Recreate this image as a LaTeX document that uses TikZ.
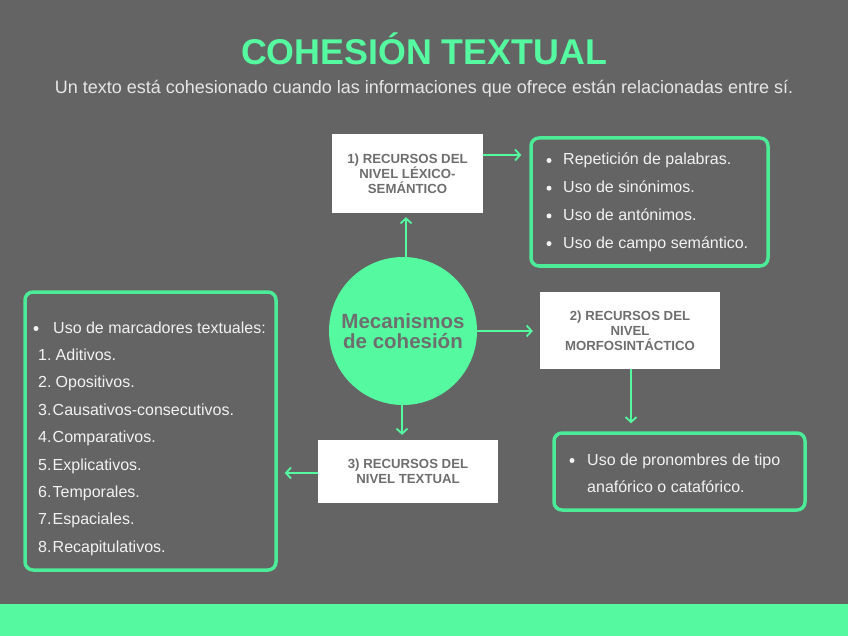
\documentclass[tikz,border=0pt]{standalone}
\usepackage{fontspec}
\setmainfont{Liberation Sans}
\usetikzlibrary{arrows.meta}
\definecolor{bg}{HTML}{646464}
\definecolor{mint}{HTML}{55F9A0}
\definecolor{mintb}{HTML}{4CEB98}
\definecolor{boxtxt}{HTML}{6E6E6E}
\definecolor{listtxt}{HTML}{F2F2F2}
\definecolor{subtxt}{HTML}{E6E6E6}
\tikzset{
  whitebox/.style={fill=white, draw=none, align=center, text=boxtxt,
    font=\fontsize{13.2}{15}\selectfont\bfseries, inner sep=0pt},
  listbox/.style={draw=mintb, line width=3.5pt, rounded corners=8pt, fill=bg, inner sep=0pt},
  arr/.style={draw=mint, line width=1.8pt, -{Straight Barb[length=5pt,width=11pt,line width=1.8pt]}},
  item/.style={anchor=base west, inner sep=0pt, text=listtxt, font=\fontsize{16}{18}\selectfont},
  dot/.style={circle, fill=listtxt, minimum size=5pt, inner sep=0pt},
}
\begin{document}
\begin{tikzpicture}[x=1pt,y=-1pt]
\useasboundingbox (0,0) rectangle (848,636);
\fill[bg] (0,0) rectangle (848,636);
\fill[mint] (0,604) rectangle (848,636);

% title
\node[anchor=base, inner sep=0pt, text=mint, font=\fontsize{35.8}{40}\selectfont\bfseries] (title) at (424,65) {COHESIÓN TEXTUAL};
\node[anchor=base, inner sep=0pt, text=subtxt, font=\fontsize{18}{20}\selectfont] (sub) at (424,94) {Un texto está cohesionado cuando las informaciones que ofrece están relacionadas entre sí.};

% center circle
\node[circle, fill=mint, minimum size=148pt, inner sep=0pt, align=center, text=boxtxt,
  font=\fontsize{20.5}{20.5}\selectfont\bfseries] (c) at (403,331) {Mecanismos\\de cohesión};

% white boxes
\node[whitebox, minimum width=151pt, minimum height=79pt] (b1) at (407.5,173.5) {1) RECURSOS DEL\\NIVEL LÉXICO-\\SEMÁNTICO};
\node[whitebox, minimum width=180pt, minimum height=77pt] (b2) at (630,330.5) {2) RECURSOS DEL\\NIVEL\\MORFOSINTÁCTICO};
\node[whitebox, minimum width=180pt, minimum height=63pt] (b3) at (408,471.5) {3) RECURSOS DEL\\NIVEL TEXTUAL};

% list boxes
\node[listbox, minimum width=237pt, minimum height=128pt] (l1) at (649.5,202) {};
\node[listbox, minimum width=251pt, minimum height=77pt] (l2) at (679.5,471.5) {};
\node[listbox, minimum width=251pt, minimum height=278pt] (l3) at (150.5,431) {};

% list 1 items
\foreach \t [count=\i] in {Repetición de palabras., Uso de sinónimos., Uso de antónimos., Uso de campo semántico.}{
  \node[item] (l1t\i) at (563,{165+27.7*(\i-1)}) {\t};
  \node[dot] (l1d\i) at (549,{160.5+27.7*(\i-1)}) {};
}

% list 2 items
\node[dot] (l2d1) at (572,460.5) {};
\node[item] (l2t1) at (587,465) {Uso de pronombres de tipo};
\node[item] (l2t2) at (587,492) {anafórico o catafórico.};

% list 3 items
\node[dot] (l3d0) at (36,328.5) {};
\node[item] (l3t0) at (53,333) {Uso de marcadores textuales:};
\foreach \n/\t/\xx [count=\i] in {1./Aditivos./55.5, 2./Opositivos./55.5, 3./Causativos-consecutivos./52.5, 4./Comparativos./52.5, 5./Explicativos./52.5, 6./Temporales./52.5, 7./Espaciales./52.5, 8./Recapitulativos./52.5}{
  \node[item] (l3n\i) at (38,{333+27.4*\i}) {\n};
  \node[item] (l3t\i) at (\xx,{333+27.4*\i}) {\t};
}

% connectors
\draw[arr, shorten >=8pt] ([yshift=18.5pt]b1.east) -- ([yshift=18.5pt]b1.east -| l1.west);
\draw[arr, shorten >=4pt] ([xshift=3pt]c.north) -- ([xshift=3pt]c.north |- b1.south);
\draw[arr, shorten >=7pt] (c.east) -- (c.east -| b2.west);
\draw[arr, shorten >=8pt] ([xshift=1pt]b2.south) -- ([xshift=1pt]b2.south |- l2.north);
\draw[arr, shorten >=5pt] ([xshift=-1pt]c.south) -- ([xshift=-1pt]c.south |- b3.north);
\draw[arr, shorten >=7pt] ([yshift=-1.5pt]b3.west) -- ([yshift=-1.5pt]b3.west -| l3.east);
\end{tikzpicture}
\end{document}
